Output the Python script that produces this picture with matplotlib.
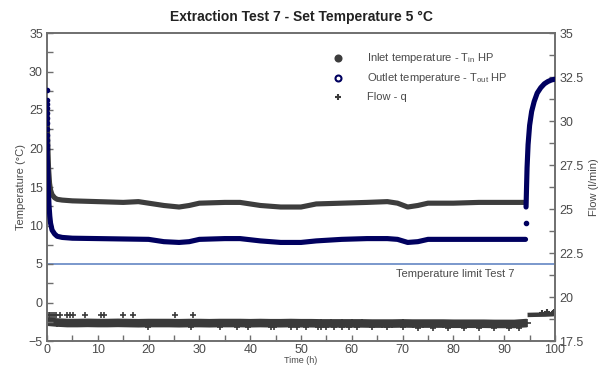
import matplotlib
matplotlib.use('Agg')
import matplotlib.pyplot as plt
from matplotlib.ticker import MultipleLocator

# ---------------- data ----------------
# inlet temperature (°C) vs time (h)
t_in = [0.0, 0.1, 0.2, 0.3, 0.5, 0.7, 1.0, 1.5, 2.0, 3.0, 5.0, 10, 15, 18, 20, 23, 26, 28, 30, 35, 38,
        42, 46, 50, 53, 58, 63, 67, 69, 71, 73, 75, 80, 85, 90, 94.2]
T_in = [25.0, 22.0, 19.5, 17.5, 15.5, 14.6, 14.0, 13.6, 13.4, 13.3, 13.2, 13.1, 13.0, 13.1, 12.9, 12.6,
        12.4, 12.6, 12.9, 13.0, 13.0, 12.6, 12.4, 12.4, 12.8, 12.9, 13.0, 13.1, 12.9, 12.4, 12.6, 12.9,
        12.9, 13.0, 13.0, 13.0]

# outlet temperature (°C) vs time (h)
t_out = [0.0, 0.1, 0.2, 0.3, 0.4, 0.55, 0.7, 1.0, 1.5, 2.0, 3.0, 5.0, 10, 15, 20, 23, 26, 28, 30, 35,
         38, 42, 46, 50, 53, 58, 63, 67, 69, 71, 73, 75, 80, 85, 90, 94.2]
T_out = [20.2, 18.0, 16.0, 14.0, 12.6, 11.2, 10.3, 9.4, 8.9, 8.6, 8.45, 8.35, 8.3, 8.25, 8.2, 7.9, 7.8,
         7.9, 8.2, 8.3, 8.3, 8.0, 7.8, 7.8, 8.0, 8.2, 8.3, 8.3, 8.2, 7.8, 7.9, 8.2, 8.2, 8.2, 8.2, 8.2]
# first samples of outlet temperature (start-up)
t_out_start = [0.0, 0.0, 0.0, 0.0, 0.0, 0.02, 0.02, 0.03, 0.04, 0.05, 0.06, 0.08]
T_out_start = [27.6, 26.3, 25.8, 25.2, 24.6, 24.0, 23.3, 22.5, 21.8, 21.1, 20.5, 20.0]
# stray point and final rise
t_out_stray = [94.3]
T_out_stray = [10.3]
t_out_rise = [94.3, 94.4, 94.5, 94.7, 95.0, 95.4, 95.9, 96.5, 97.2, 97.9, 98.6, 99.3, 100.0]
T_out_rise = [12.4, 15.0, 17.5, 20.5, 23.0, 24.8, 26.1, 27.2, 27.9, 28.4, 28.7, 28.9, 29.0]

# flow (l/min) vs time (h)
flow_t = [0, 2, 4, 6, 8, 10, 12, 14, 16, 18, 20, 22, 24, 26, 28, 30, 32, 34, 36, 38, 40, 42, 44, 46,
          48, 50, 52, 54, 56, 58, 60, 62, 64, 66, 68, 70, 72, 74, 76, 78, 80, 82, 84, 86, 88, 90,
          92, 94.5]
flow_q = [18.6, 18.55, 18.52, 18.52, 18.53, 18.52, 18.52, 18.53, 18.52, 18.51, 18.52, 18.52, 18.52,
          18.51, 18.52, 18.52, 18.51, 18.52, 18.52, 18.52, 18.51, 18.52, 18.51, 18.51, 18.52, 18.51,
          18.51, 18.5, 18.5, 18.5, 18.5, 18.5, 18.49, 18.49, 18.49, 18.5, 18.49, 18.49, 18.49,
          18.49, 18.48, 18.48, 18.48, 18.48, 18.47, 18.47, 18.47, 18.52]
flow_up_t = [0.0, 0.3, 0.6, 0.9, 1.3, 1.7, 2.5, 4.0, 4.6, 5.1, 7.5, 10.6, 11.3, 15.0, 17.0, 25.2, 28.8]
flow_up_q = [18.97, 18.97, 18.97, 18.97, 18.97, 18.97, 18.97, 18.97, 18.97, 18.97, 18.97, 18.97,
             18.97, 18.97, 18.97, 18.95, 18.95]
flow_dn_t = [19.9, 28.3, 34.0, 37.4, 39.6, 44.0, 44.7, 48.0, 49.2, 51.0, 53.3, 54.0, 55.0, 56.5,
             58.0, 59.5, 61.0, 64, 67, 70, 73, 76, 79, 82, 85, 88, 91, 93]
flow_dn_q = [18.27, 18.28, 18.28, 18.28, 18.28, 18.28, 18.28, 18.28, 18.28, 18.28, 18.28, 18.28,
             18.28, 18.28, 18.28, 18.28, 18.28, 18.27, 18.27, 18.27, 18.26, 18.26, 18.26, 18.26,
             18.25, 18.25, 18.25, 18.25]
flow_end_t = [94.6, 96, 98, 99.5, 100]
flow_end_q = [18.98, 18.99, 19.0, 19.02, 19.05]
flow_end_pts_t = [97.5, 98.4, 99.6, 99.8, 100]
flow_end_pts_q = [19.1, 19.12, 19.1, 19.15, 19.0]

temp_limit = 5
limit_label = "Temperature limit Test 7"

# ---------------- styling ----------------
plt.rcParams['font.family'] = ['Liberation Sans', 'DejaVu Sans']
plt.rcParams['mathtext.fontset'] = 'custom'
plt.rcParams['mathtext.rm'] = 'Liberation Sans'
plt.rcParams['mathtext.it'] = 'Liberation Sans'

c_in = '#3d3d3d'
c_out = '#00005f'
c_flow = '#3a3a3a'
c_txt = '#4a4a4a'
c_axis = '#6e6e6e'

fig = plt.figure(figsize=(6.06, 3.67), dpi=100)
ax = fig.add_axes([47/606, 1-341/367, (555-47)/606, (341-33)/367])
ax2 = ax.twinx()

ax.set_xlim(0, 100)
ax.set_ylim(-5, 35)
ax2.set_ylim(17.5, 35)

# limit line
ax.axhline(temp_limit, color='#7090c8', lw=1.3, zorder=1)
ax.text(68.7, 3.7, limit_label, fontsize=8, color=c_txt, va='center', ha='left')

# flow (on twin axis)
ax2.plot(flow_t, flow_q, color=c_flow, lw=6.2, solid_capstyle='butt', marker='+', ms=5.5, mew=1.2, zorder=2)
ax2.plot(flow_up_t, flow_up_q, ls='none', color=c_flow, marker='+', ms=4.5, mew=1.2)
ax2.plot(flow_dn_t, flow_dn_q, ls='none', color=c_flow, marker='+', ms=4.5, mew=1.2)
ax2.plot(flow_end_t, flow_end_q, color=c_flow, lw=3.2, solid_capstyle='butt')
ax2.plot(flow_end_pts_t, flow_end_pts_q, ls='none', color=c_flow, marker='+', ms=5, mew=1.5)

# temperatures
ax2.set_zorder(0)
ax.set_zorder(1)
ax.patch.set_visible(False)
ax.plot(t_in, T_in, color=c_in, lw=3.7, solid_capstyle='round', zorder=3)
ax.plot(t_out, T_out, color=c_out, lw=3.7, solid_capstyle='round', zorder=4)
ax.plot(t_out_start, T_out_start, ls='none', marker='o', ms=3.0, mfc=c_out, mec=c_out, mew=1.0, zorder=5)
ax.plot(t_out_stray, T_out_stray, ls='none', marker='o', ms=3.0, mfc=c_out, mec=c_out, zorder=5)
ax.plot(t_out_rise, T_out_rise, color=c_out, lw=3.7, solid_capstyle='round', zorder=4)

# legend (manual)
leg_items = [
    ('o', c_in, c_in, r'Inlet temperature - T$_{\rm in}$ HP'),
    ('o', 'white', c_out, r'Outlet temperature - T$_{\rm out}$ HP'),
    ('+', c_flow, c_flow, 'Flow - q'),
]
leg_y = [58, 78, 97]
for (m, fc, ec, lab), yy in zip(leg_items, leg_y):
    yax = (341 - yy) / 308
    xm = (338 - 47) / 508
    xt = (367 - 47) / 508
    ax.plot([xm], [yax], transform=ax.transAxes, ls='none', marker=m, ms=4.3 if m == 'o' else 5,
            mfc=fc, mec=ec, mew=1.5, color=ec, clip_on=False)
    ax.text(xt, yax, lab, transform=ax.transAxes, fontsize=8, color=c_txt, va='center', ha='left')

# axes styling
for a in (ax, ax2):
    for s in a.spines.values():
        s.set_color(c_axis)
        s.set_linewidth(1.2)
ax.xaxis.set_major_locator(MultipleLocator(10))
ax.xaxis.set_minor_locator(MultipleLocator(5))
ax.yaxis.set_major_locator(MultipleLocator(5))
ax.yaxis.set_minor_locator(MultipleLocator(2.5))
ax2.yaxis.set_major_locator(MultipleLocator(2.5))
ax2.yaxis.set_minor_locator(MultipleLocator(1.25))
ax2.yaxis.set_major_formatter(matplotlib.ticker.FuncFormatter(lambda v, p: ('%g' % v)))
ax.tick_params(axis='both', which='both', direction='in', length=4, width=1, color=c_axis,
               labelsize=9, labelcolor=c_txt, top=False)
ax.tick_params(axis='x', pad=2.5)
ax.tick_params(axis='y', pad=3)
ax2.tick_params(axis='y', which='both', direction='in', length=4, width=1, color=c_axis,
                labelsize=9, labelcolor=c_txt, pad=3)

ax.set_ylabel('Temperature (°C)', fontsize=8, color=c_txt, labelpad=2)
ax2.set_ylabel('Flow (l/min)', fontsize=8, color=c_txt, labelpad=4)
ax.set_xlabel('Time (h)', fontsize=6.5, color=c_txt, labelpad=0)

fig.text(301/606, 1-17/367, 'Extraction Test 7 - Set Temperature 5 °C', ha='center', va='center',
         fontsize=10, fontweight='bold', color='#222222',
         family=['Liberation Sans Narrow', 'Liberation Sans', 'DejaVu Sans'])

fig.savefig('out.png', dpi=100)
